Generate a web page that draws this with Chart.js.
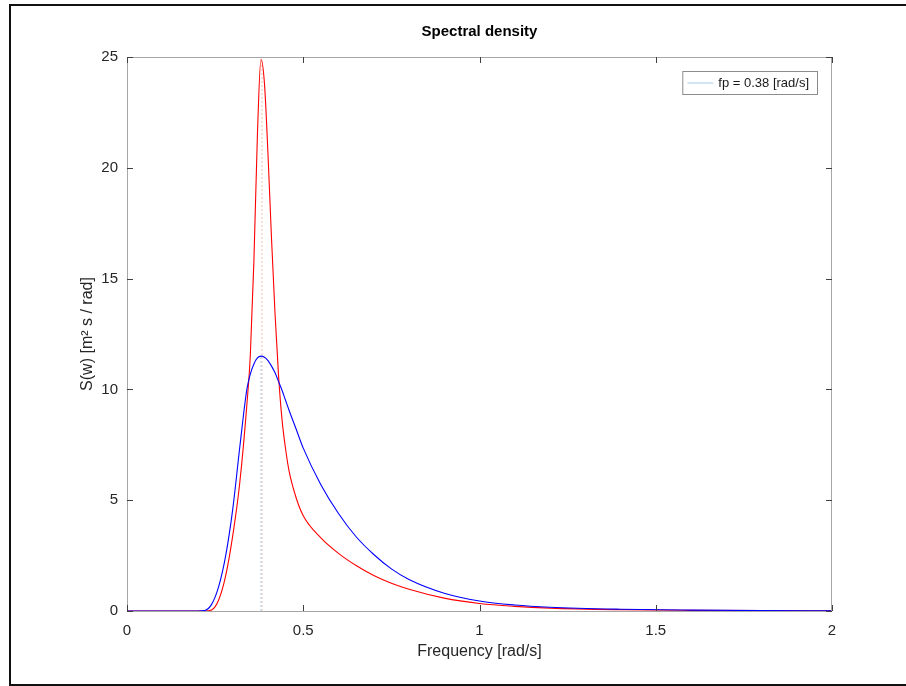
<!DOCTYPE html>
<html>
<head>
<meta charset="utf-8">
<title>Spectral density</title>
<script src="https://cdn.jsdelivr.net/npm/chart.js@4.4.1/dist/chart.umd.min.js"></script>
<style>
  html, body { margin: 0; padding: 0; background: #fff; overflow: hidden; }
  #wrap { position: relative; width: 906px; height: 686px; }
  #frame {
    position: absolute; left: 9px; top: 4px; width: 920px; height: 678px;
    border: 2px solid #111; border-right: none; pointer-events: none;
  }
</style>
</head>
<body>
<div id="wrap">
  <canvas id="spectrum" width="906" height="686"></canvas>
  <div id="frame"></div>
</div>
<script>
// frequencies [rad/s]
const freq = [0, 0.1, 0.2, 0.22, 0.24, 0.26, 0.28, 0.30, 0.32, 0.34, 0.35, 0.36, 0.37, 0.38,
  0.39, 0.40, 0.41, 0.42, 0.43, 0.44, 0.45, 0.46, 0.48, 0.50, 0.55, 0.60, 0.65, 0.70, 0.75,
  0.80, 0.90, 1.0, 1.1, 1.2, 1.4, 1.6, 1.8, 2.0];

// broad spectrum (blue)
const sBlue = [0, 0, 0, 0.02, 0.3, 1.1, 2.5, 4.6, 7.4, 10.0, 10.7, 11.15, 11.42, 11.5,
  11.45, 11.3, 11.05, 10.75, 10.35, 9.95, 9.5, 9.05, 8.2, 7.35, 5.7, 4.4, 3.35, 2.55, 1.9,
  1.42, 0.8, 0.45, 0.27, 0.17, 0.08, 0.04, 0.02, 0.01];

// peaked spectrum (red)
const sRed = [0, 0, 0, 0, 0.05, 0.5, 1.6, 3.4, 5.8, 9.3, 11.6, 15.8, 21.5, 24.9,
  23.8, 20.6, 16.8, 13.4, 10.6, 8.6, 7.3, 6.3, 5.1, 4.3, 3.3, 2.6, 2.05, 1.6, 1.25,
  0.98, 0.58, 0.34, 0.21, 0.13, 0.06, 0.03, 0.015, 0.008];

// peak frequency markers
const fp = 0.38;
const fpBlueY = [0, 11.5];
const fpRedY = [0, 24.9];
const fpLabel = 'fp = 0.38 [rad/s]';

const xTicks = [0, 0.5, 1, 1.5, 2];
const yTicks = [0, 5, 10, 15, 20, 25];

const FONT = '"Liberation Sans", Arial, Helvetica, sans-serif';
const AREA = { left: 127, right: 832, top: 57, bottom: 611 };

function toPoints(xs, ys) {
  return xs.map((x, i) => ({ x: x, y: ys[i] }));
}

// box, inward ticks, title and legend drawn like the original figure
const figureDecor = {
  id: 'figureDecor',
  afterDraw(chart) {
    const ctx = chart.ctx;
    const a = chart.chartArea;
    const xs = chart.scales.x, ys = chart.scales.y;
    ctx.save();

    // axes box
    ctx.strokeStyle = '#a6a6a6';
    ctx.lineWidth = 1;
    ctx.strokeRect(a.left + 0.5, a.top + 0.5, a.right - a.left - 1, a.bottom - a.top);

    // inward tick marks
    ctx.strokeStyle = '#404040';
    ctx.beginPath();
    xTicks.forEach(v => {
      const px = Math.round(xs.getPixelForValue(v)) + 0.5;
      ctx.moveTo(px, a.bottom); ctx.lineTo(px, a.bottom - 6);
      ctx.moveTo(px, a.top); ctx.lineTo(px, a.top + 6);
    });
    yTicks.forEach(v => {
      const py = Math.round(ys.getPixelForValue(v)) + 0.5;
      ctx.moveTo(a.left, py); ctx.lineTo(a.left + 6, py);
      ctx.moveTo(a.right, py); ctx.lineTo(a.right - 6, py);
    });
    ctx.stroke();

    // title
    ctx.fillStyle = '#000';
    ctx.font = 'bold 15px ' + FONT;
    ctx.textAlign = 'center';
    ctx.textBaseline = 'middle';
    ctx.fillText('Spectral density', (a.left + a.right) / 2, 32);

    // legend
    ctx.font = '13px ' + FONT;
    const tw = ctx.measureText(fpLabel).width;
    const bw = tw + 44, bh = 23;
    const bx = a.right - 15 - bw, by = a.top + 14;
    ctx.fillStyle = '#fff';
    ctx.fillRect(bx, by, bw, bh);
    ctx.strokeStyle = '#8c8c8c';
    ctx.strokeRect(bx + 0.5, by + 0.5, bw, bh);
    ctx.strokeStyle = '#b4d6ee';
    ctx.lineWidth = 1.2;
    ctx.beginPath();
    ctx.moveTo(bx + 5, by + 12); ctx.lineTo(bx + 31, by + 12);
    ctx.stroke();
    ctx.fillStyle = '#1a1a1a';
    ctx.textAlign = 'left';
    ctx.fillText(fpLabel, bx + 36, by + 12);
    ctx.restore();
  }
};

new Chart(document.getElementById('spectrum'), {
  type: 'line',
  data: {
    datasets: [
      {
        label: fpLabel,
        data: toPoints([fp, fp], fpBlueY),
        borderColor: '#b4d6ee',
        borderWidth: 1.2,
        borderDash: [2, 2],
        pointRadius: 0,
        order: 3
      },
      {
        label: 'fp red',
        data: toPoints([fp + 0.003, fp + 0.003], fpRedY),
        borderColor: '#f6cdb9',
        borderWidth: 1.2,
        borderDash: [2, 2],
        pointRadius: 0,
        order: 4
      },
      {
        label: 'S blue',
        data: toPoints(freq, sBlue),
        borderColor: '#0000ff',
        borderWidth: 1.1,
        pointRadius: 0,
        cubicInterpolationMode: 'monotone',
        order: 1
      },
      {
        label: 'S red',
        data: toPoints(freq, sRed),
        borderColor: '#ff0000',
        borderWidth: 1.1,
        pointRadius: 0,
        cubicInterpolationMode: 'monotone',
        order: 2
      }
    ]
  },
  options: {
    responsive: false,
    animation: false,
    events: [],
    layout: { padding: { left: 0, right: 906 - AREA.right, top: AREA.top, bottom: 0 } },
    plugins: {
      legend: { display: false },
      title: { display: false },
      tooltip: { enabled: false }
    },
    scales: {
      x: {
        type: 'linear',
        min: 0, max: 2,
        afterBuildTicks: s => { s.ticks = xTicks.map(v => ({ value: v })); },
        afterFit: s => { s.height = 686 - AREA.bottom; },
        grid: { display: false, drawTicks: false, tickLength: 0 },
        border: { display: false },
        ticks: {
          padding: 11,
          color: '#262626',
          font: { family: FONT, size: 15 },
          maxRotation: 0,
          callback: v => String(v)
        },
        title: {
          display: true,
          text: 'Frequency [rad/s]',
          color: '#262626',
          font: { family: FONT, size: 16 },
          padding: { top: 0, bottom: 25 }
        }
      },
      y: {
        type: 'linear',
        min: 0, max: 25,
        afterBuildTicks: s => { s.ticks = yTicks.map(v => ({ value: v })); },
        afterFit: s => { s.width = AREA.left; },
        grid: { display: false, drawTicks: false, tickLength: 0 },
        border: { display: false },
        ticks: {
          padding: 9,
          color: '#262626',
          font: { family: FONT, size: 15 },
          callback: v => String(v)
        },
        title: {
          display: true,
          text: 'S(w) [m² s / rad]',
          color: '#262626',
          font: { family: FONT, size: 16 },
          padding: { top: 78, bottom: 0 }
        }
      }
    }
  },
  plugins: [figureDecor]
});
</script>
</body>
</html>
